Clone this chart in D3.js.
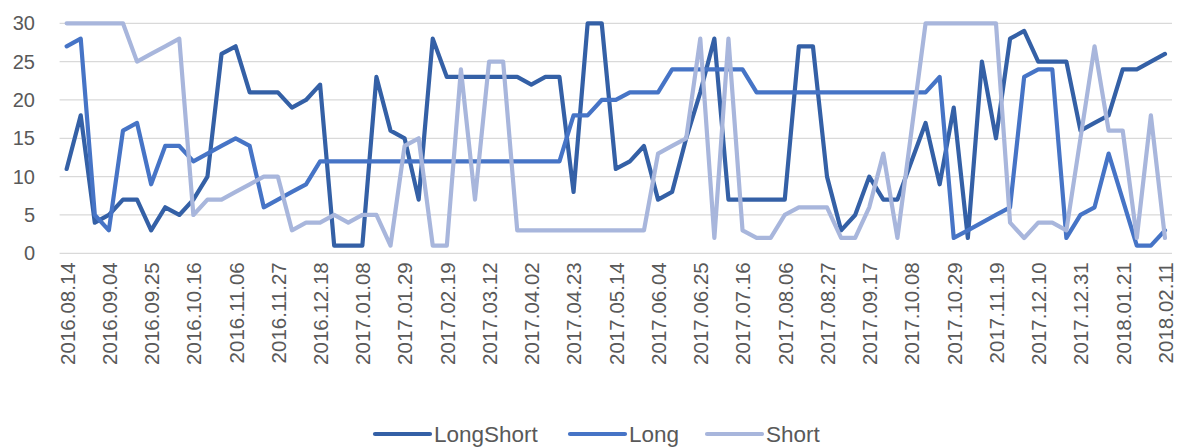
<!DOCTYPE html>
<html>
<head>
<meta charset="utf-8">
<script src="https://cdn.jsdelivr.net/npm/d3@7"></script>
<style>
  html, body { margin: 0; padding: 0; background: #fff; }
  svg { display: block; }
  text { font-family: "Liberation Sans", Arial, sans-serif; fill: #595959; }
</style>
</head>
<body>
<svg id="chart" width="1182" height="448"></svg>
<script>
const dates = [
  "2016.08.14","2016.08.21","2016.08.28","2016.09.04","2016.09.11","2016.09.18","2016.09.25","2016.10.02","2016.10.09","2016.10.16",
  "2016.10.23","2016.10.30","2016.11.06","2016.11.13","2016.11.20","2016.11.27","2016.12.04","2016.12.11","2016.12.18","2016.12.25",
  "2017.01.01","2017.01.08","2017.01.15","2017.01.22","2017.01.29","2017.02.05","2017.02.12","2017.02.19","2017.02.26","2017.03.05",
  "2017.03.12","2017.03.19","2017.03.26","2017.04.02","2017.04.09","2017.04.16","2017.04.23","2017.04.30","2017.05.07","2017.05.14",
  "2017.05.21","2017.05.28","2017.06.04","2017.06.11","2017.06.18","2017.06.25","2017.07.02","2017.07.09","2017.07.16","2017.07.23",
  "2017.07.30","2017.08.06","2017.08.13","2017.08.20","2017.08.27","2017.09.03","2017.09.10","2017.09.17","2017.09.24","2017.10.01",
  "2017.10.08","2017.10.15","2017.10.22","2017.10.29","2017.11.05","2017.11.12","2017.11.19","2017.11.26","2017.12.03","2017.12.10",
  "2017.12.17","2017.12.24","2017.12.31","2018.01.07","2018.01.14","2018.01.21","2018.01.28","2018.02.04","2018.02.11"
];

const longShort = [
  11,18,4,5,7,7,3,6,5,7,
  10,26,27,21,21,21,19,20,22,1,
  1,1,23,16,15,7,28,23,23,23,
  23,23,23,22,23,23,8,30,30,11,
  12,14,7,8,15,21,28,7,7,7,
  7,7,27,27,10,3,5,10,7,7,
  12,17,9,19,2,25,15,28,29,25,
  25,25,16,17,18,24,24,25,26
];

const longVals = [
  27,28,5,3,16,17,9,14,14,12,
  13,14,15,14,6,7,8,9,12,12,
  12,12,12,12,12,12,12,12,12,12,
  12,12,12,12,12,12,18,18,20,20,
  21,21,21,24,24,24,24,24,24,21,
  21,21,21,21,21,21,21,21,21,21,
  21,21,23,2,3,4,5,6,23,24,
  24,2,5,6,13,7,1,1,3
];

const shortVals = [
  30,30,30,30,30,25,26,27,28,5,
  7,7,8,9,10,10,3,4,4,5,
  4,5,5,1,14,15,1,1,24,7,
  25,25,3,3,3,3,3,3,3,3,
  3,3,13,14,15,28,2,28,3,2,
  2,5,6,6,6,2,2,6,13,2,
  16,30,30,30,30,30,30,4,2,4,
  4,3,15,27,16,16,2,18,2
];

const yTicks = [0, 5, 10, 15, 20, 25, 30];
const seriesNames = ["LongShort", "Long", "Short"];
const seriesColors = ["#3460a6", "#4674c6", "#a8b6dc"];
const seriesData = [longShort, longVals, shortVals];

const svg = d3.select("#chart");
const plotL = 59.6, plotR = 1172, plotT = 23.3, plotB = 253.3;

const x = d3.scalePoint().domain(dates).range([plotL, plotR]).padding(0.5);
const y = d3.scaleLinear().domain([0, 30]).range([plotB, plotT]);

// gridlines
svg.append("g")
  .selectAll("line")
  .data(yTicks)
  .join("line")
  .attr("x1", plotL).attr("x2", plotR)
  .attr("y1", d => y(d)).attr("y2", d => y(d))
  .attr("stroke", "#d9d9d9").attr("stroke-width", 1.3);

// y axis labels
const yAxis = d3.axisLeft(y).tickValues(yTicks).tickSize(0).tickPadding(0);
const gy = svg.append("g").attr("transform", `translate(35,0)`).call(yAxis);
gy.select(".domain").remove();
gy.selectAll("text")
  .style("font-family", "'Liberation Sans', Arial, sans-serif")
  .style("font-size", "20px").attr("fill", "#595959");

// x axis labels (every 3rd)
const xAxis = d3.axisBottom(x).tickValues(dates.filter((d, i) => i % 3 === 0)).tickSize(0);
const gx = svg.append("g").attr("transform", `translate(0,${plotB})`).call(xAxis);
gx.select(".domain").remove();
gx.selectAll("text")
  .style("font-family", "'Liberation Sans', Arial, sans-serif")
  .style("font-size", "20.5px").attr("fill", "#595959")
  .attr("text-anchor", "end")
  .attr("x", 0).attr("y", 0).attr("dy", "0.36em")
  .attr("transform", "translate(0,9) rotate(-90)");

// lines
const line = d3.line().x((d, i) => x(dates[i])).y(d => y(d));
seriesData.forEach((vals, k) => {
  svg.append("path")
    .datum(vals)
    .attr("fill", "none")
    .attr("stroke", seriesColors[k])
    .attr("stroke-width", 4.2)
    .attr("stroke-linejoin", "round")
    .attr("stroke-linecap", "round")
    .attr("d", line);
});

// legend
const legendX = [375, 570, 707];
const lg = svg.append("g");
seriesNames.forEach((name, k) => {
  const g = lg.append("g").attr("transform", `translate(${legendX[k]},434)`);
  g.append("line").attr("x1", 0).attr("x2", 55).attr("y1", 0).attr("y2", 0)
    .attr("stroke", seriesColors[k]).attr("stroke-width", 4.2).attr("stroke-linecap", "round");
  g.append("text").attr("x", 59).attr("y", 0).attr("dy", "0.36em")
    .style("font-size", "22.5px").text(name);
});
</script>
</body>
</html>
